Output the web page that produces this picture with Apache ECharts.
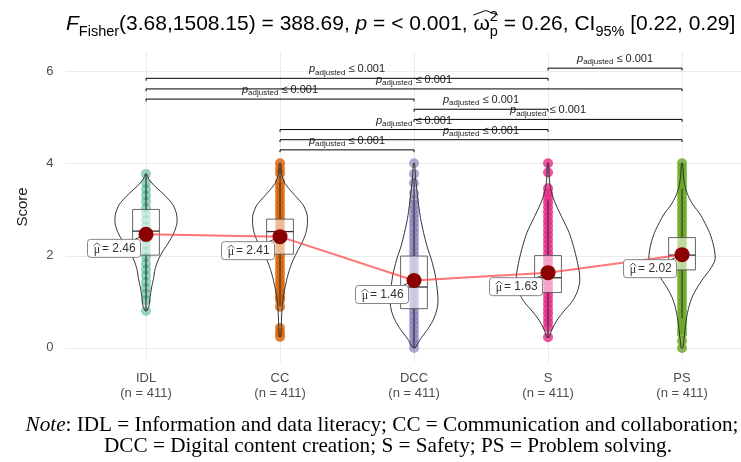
<!DOCTYPE html>
<html lang="en">
<head>
<meta charset="UTF-8">
<title>Score by competence area</title>
<style>
  html, body { margin: 0; padding: 0; background: #fff; }
  #chart { width: 741px; height: 462px; }
</style>
</head>
<body>
<div id="chart"></div>
<script src="https://cdn.jsdelivr.net/npm/echarts@6.0.0/dist/echarts.min.js"></script>
<script>
const categories = ['IDL', 'CC', 'DCC', 'S', 'PS'];
const groupSizes = [411, 411, 411, 411, 411];
const meanValues = [2.46, 2.41, 1.46, 1.63, 2.02];
const q1Values = [2.01, 2.03, 0.85, 1.20, 1.69];
const medianValues = [2.53, 2.52, 1.32, 1.52, 2.01];
const q3Values = [3.00, 2.79, 1.99, 2.00, 2.39];
const whiskerLow = [0.80, 0.90, 0.00, 0.23, 0.64];
const whiskerHigh = [3.77, 3.90, 3.67, 3.20, 3.44];
const yTicks = [0, 2, 4, 6];

// violin outlines: [score, half width in category units]
const violinIDL = [[3.77,0.004],[3.65,0.022],[3.5,0.067],[3.3,0.142],[3.1,0.201],[2.9,0.228],[2.7,0.231],[2.5,0.209],[2.3,0.172],[2.1,0.127],[1.9,0.090],[1.7,0.067],[1.5,0.056],[1.3,0.041],[1.1,0.030],[0.9,0.022],[0.8,0.004]];
const violinCC = [[4.0,0.004],[3.8,0.011],[3.6,0.030],[3.45,0.067],[3.3,0.112],[3.1,0.172],[2.9,0.201],[2.7,0.205],[2.5,0.194],[2.3,0.168],[2.1,0.131],[1.9,0.097],[1.7,0.071],[1.5,0.052],[1.3,0.037],[1.1,0.024],[0.9,0.016],[0.6,0.011],[0.4,0.009],[0.24,0.004]];
const violinDCC = [[4.0,0.004],[3.7,0.011],[3.4,0.022],[3.1,0.034],[2.8,0.049],[2.5,0.071],[2.2,0.097],[1.9,0.131],[1.6,0.157],[1.3,0.172],[1.0,0.179],[0.8,0.168],[0.6,0.142],[0.4,0.101],[0.2,0.049],[0.0,0.007]];
const violinS = [[4.0,0.004],[3.7,0.009],[3.45,0.019],[3.2,0.045],[3.0,0.075],[2.8,0.108],[2.5,0.157],[2.2,0.190],[1.9,0.216],[1.6,0.235],[1.4,0.235],[1.2,0.216],[1.0,0.179],[0.8,0.119],[0.6,0.067],[0.4,0.030],[0.23,0.007]];
const violinPS = [[4.0,0.004],[3.7,0.011],[3.5,0.022],[3.3,0.045],[3.1,0.082],[2.9,0.134],[2.7,0.172],[2.5,0.205],[2.3,0.228],[2.1,0.243],[1.9,0.246],[1.7,0.209],[1.5,0.157],[1.3,0.112],[1.1,0.075],[0.9,0.052],[0.7,0.037],[0.5,0.026],[0.3,0.019],[0.1,0.011],[0.0,0.007]];
const violins = [violinIDL, violinCC, violinDCC, violinS, violinPS];

// observed score levels per group
const pointsIDL = [3.77, 3.57, 3.43, 3.3, 3.17, 3.03, 2.9, 2.77, 2.63, 2.5, 2.37, 2.23, 2.1, 1.97, 1.83, 1.7, 1.57, 1.43, 1.3, 1.17, 1.03, 0.8];
const pointsCC = [4.0, 3.88, 3.78, 3.6, 3.5, 3.4, 3.3, 3.2, 3.1, 3.0, 2.9, 2.8, 2.7, 2.6, 2.5, 2.4, 2.3, 2.2, 2.1, 2.0, 1.9, 1.8, 1.7, 1.6, 1.5, 1.4, 1.3, 1.2, 1.1, 1.03, 0.89, 0.43, 0.33, 0.24];
const pointsDCC = [4.0, 3.77, 3.57, 3.35, 3.2, 3.1, 3.0, 2.9, 2.8, 2.7, 2.6, 2.5, 2.4, 2.3, 2.2, 2.1, 2.0, 1.9, 1.8, 1.7, 1.6, 1.5, 1.4, 1.3, 1.2, 1.1, 1.0, 0.9, 0.8, 0.7, 0.6, 0.5, 0.4, 0.3, 0.2, 0.1, 0.0];
const pointsS = [4.0, 3.8, 3.46, 3.35, 3.25, 3.15, 3.05, 2.95, 2.85, 2.75, 2.65, 2.55, 2.45, 2.35, 2.25, 2.15, 2.05, 1.95, 1.85, 1.75, 1.65, 1.55, 1.45, 1.35, 1.25, 1.15, 1.05, 0.95, 0.85, 0.75, 0.65, 0.55, 0.45, 0.23];
const pointsPS = [4.0, 3.9, 3.8, 3.7, 3.6, 3.5, 3.4, 3.3, 3.2, 3.1, 3.0, 2.9, 2.8, 2.7, 2.6, 2.5, 2.4, 2.3, 2.2, 2.1, 2.0, 1.9, 1.8, 1.7, 1.6, 1.5, 1.4, 1.3, 1.2, 1.1, 1.0, 0.9, 0.8, 0.7, 0.6, 0.5, 0.4, 0.3, 0.15, 0.0];
const groupPoints = [pointsIDL, pointsCC, pointsDCC, pointsS, pointsPS];

// pairwise comparisons, bottom bracket first
const pairFrom = [1, 1, 1, 2, 2, 0, 0, 0, 3];
const pairTo = [2, 4, 3, 4, 3, 2, 4, 3, 4];
const pairHeights = [4.29, 4.51, 4.73, 4.95, 5.17, 5.39, 5.61, 5.84, 6.06];
const pairP = ['≤ 0.001', '≤ 0.001', '≤ 0.001', '≤ 0.001', '≤ 0.001', '≤ 0.001', '≤ 0.001', '≤ 0.001', '≤ 0.001'];

const groupColors = ['#1B9E77', '#D95F02', '#7570B3', '#E7298A', '#66A61E'];
const pointAlpha = [0.45, 0.8, 0.6, 0.8, 0.8];
const sans = '"Liberation Sans", Arial, sans-serif';
const serif = '"Liberation Serif", "Times New Roman", serif';
const boxHalf = 0.1;
const titleSize = 21, titleSub = 14.5, titleLeft = 66, titleTop = 9;
const noteSize = 21.2;

let chart = echarts.init(document.getElementById('chart'));

// measure title pieces so the hat over omega lands in the right place
const ctx = document.createElement('canvas').getContext('2d');
function textWidth(s, size, italic) {
    ctx.font = (italic ? 'italic ' : '') + size + 'px ' + sans;
    return ctx.measureText(s).width;
}
const omegaX = titleLeft + textWidth('F', titleSize, true) + textWidth('Fisher', titleSub)
    + textWidth('(3.68,1508.15) = 388.69, ', titleSize) + textWidth('p', titleSize, true)
    + textWidth(' = < 0.001, ', titleSize);
const omegaW = textWidth('\u03c9', titleSize) + textWidth('2', titleSub);

function renderGrid(params, api) {
    const cs = params.coordSys;
    const children = [];
    yTicks.forEach(v => {
        const y = Math.round(api.coord([1, v])[1]) + 0.5;
        children.push({type: 'line', shape: {x1: cs.x, y1: y, x2: cs.x + cs.width, y2: y}, style: {stroke: '#ebebeb', lineWidth: 1}});
    });
    categories.forEach((c, i) => {
        const x = Math.round(api.coord([i + 1, 0])[0]) + 0.5;
        children.push({type: 'line', shape: {x1: x, y1: cs.y, x2: x, y2: cs.y + cs.height}, style: {stroke: '#ebebeb', lineWidth: 1}});
    });
    return {type: 'group', children: children};
}

function renderBox(params, api) {
    const g = api.value(0);
    const x = g + 1;
    const lo = api.coord([x, whiskerLow[g]]);
    const hi = api.coord([x, whiskerHigh[g]]);
    const a = api.coord([x - boxHalf, q3Values[g]]);
    const b = api.coord([x + boxHalf, q1Values[g]]);
    const m1 = api.coord([x - boxHalf, medianValues[g]]);
    const m2 = api.coord([x + boxHalf, medianValues[g]]);
    return {type: 'group', children: [
        {type: 'line', shape: {x1: hi[0], y1: hi[1], x2: hi[0], y2: a[1]}, style: {stroke: '#333', lineWidth: 1.1}},
        {type: 'line', shape: {x1: lo[0], y1: b[1], x2: lo[0], y2: lo[1]}, style: {stroke: '#333', lineWidth: 1.1}},
        {type: 'rect', shape: {x: a[0], y: a[1], width: b[0] - a[0], height: b[1] - a[1]}, style: {fill: 'rgba(255,255,255,0.55)', stroke: '#555', lineWidth: 0.9}},
        {type: 'line', shape: {x1: m1[0], y1: m1[1], x2: m2[0], y2: m2[1]}, style: {stroke: '#333', lineWidth: 1.3}}
    ]};
}

function renderViolin(params, api) {
    const g = api.value(0);
    const shape = violins[g];
    const pts = [];
    shape.forEach(d => pts.push(api.coord([g + 1 + d[1], d[0]])));
    for (let k = shape.length - 1; k >= 0; k--) {
        pts.push(api.coord([g + 1 - shape[k][1], shape[k][0]]));
    }
    return {type: 'polygon', shape: {points: pts, smooth: 0.25}, style: {fill: 'none', stroke: '#333', lineWidth: 1}};
}

function renderMeanLabel(params, api) {
    const g = api.value(0);
    const p = api.coord([g + 1, meanValues[g]]);
    const cx = p[0] - 32, cy = p[1] + 14;
    const mx = cx - 17;
    return {type: 'group', children: [
        {type: 'line', shape: {x1: p[0], y1: p[1], x2: cx + 21, y2: cy - 9}, style: {stroke: '#000', lineWidth: 0.8}},
        {type: 'rect', shape: {x: cx - 26.5, y: cy - 9, width: 53, height: 18, r: 3}, style: {fill: '#fff', stroke: '#777', lineWidth: 0.9}},
        {type: 'text', style: {text: '\u03bc', x: mx, y: cy + 1.5, align: 'center', verticalAlign: 'middle',
            font: '12px ' + serif, fill: '#333'}},
        {type: 'polyline', shape: {points: [[mx - 3.5, cy - 2.5], [mx, cy - 5.5], [mx + 3.5, cy - 2.5]]},
            style: {stroke: '#333', lineWidth: 0.8, fill: 'none'}},
        {type: 'text', style: {text: '= ' + meanValues[g].toFixed(2), x: mx + 5, y: cy + 0.5, align: 'left', verticalAlign: 'middle',
            font: '12px ' + sans, fill: '#333'}}
    ]};
}

function renderBrackets(params, api) {
    const children = [];
    const tip = api.size([0, 0.05])[1];
    pairFrom.forEach((a, k) => {
        const b = pairTo[k];
        const p1 = api.coord([a + 1, pairHeights[k]]);
        const p2 = api.coord([b + 1, pairHeights[k]]);
        children.push({type: 'polyline', shape: {points: [[p1[0], p1[1] + tip], [p1[0], p1[1]], [p2[0], p2[1]], [p2[0], p2[1] + tip]]},
            style: {stroke: '#000', lineWidth: 1, fill: 'none'}});
        children.push({type: 'text', style: {
            text: '{p|p}{s|adjusted}{n| ' + pairP[k] + '}',
            x: (p1[0] + p2[0]) / 2, y: p1[1] - 2, align: 'center', verticalAlign: 'bottom',
            rich: {
                p: {fontFamily: sans, fontStyle: 'italic', fontSize: 11, lineHeight: 14, fill: '#222'},
                s: {fontFamily: sans, fontSize: 8, lineHeight: 8, verticalAlign: 'bottom', fill: '#222'},
                n: {fontFamily: sans, fontSize: 11, lineHeight: 14, fill: '#222'}
            }
        }});
    });
    return {type: 'group', children: children};
}

const groupIndex = categories.map((c, i) => [i]);

const series = [
    {type: 'custom', renderItem: renderGrid, data: [[0]], silent: true, z: 0}
];
groupPoints.forEach((pts, g) => {
    series.push({
        type: 'scatter', symbolSize: 10, silent: true, z: 1,
        itemStyle: {color: groupColors[g], opacity: pointAlpha[g]},
        data: pts.map(v => [g + 1, v])
    });
});
series.push(
    {type: 'custom', renderItem: renderBox, data: groupIndex, silent: true, z: 2},
    {type: 'custom', renderItem: renderViolin, data: groupIndex, silent: true, z: 3},
    {type: 'line', data: meanValues.map((v, i) => [i + 1, v]), symbol: 'none', silent: true, z: 4,
        lineStyle: {color: 'rgba(255,60,60,0.7)', width: 2}},
    {type: 'custom', renderItem: renderMeanLabel, data: groupIndex, silent: true, z: 5},
    {type: 'scatter', data: meanValues.map((v, i) => [i + 1, v]), symbolSize: 15, silent: true, z: 6,
        itemStyle: {color: '#8B0000', opacity: 1}},
    {type: 'custom', renderItem: renderBrackets, data: [[0]], silent: true, z: 7}
);

const titleRich = {
    n: {fontFamily: sans, fontSize: titleSize, fontWeight: 'normal', lineHeight: 30, color: '#000'},
    i: {fontFamily: sans, fontSize: titleSize, fontWeight: 'normal', lineHeight: 30, fontStyle: 'italic', color: '#000'},
    sub: {fontFamily: sans, fontSize: titleSub, fontWeight: 'normal', lineHeight: 15, verticalAlign: 'bottom', color: '#000'},
    sup: {fontFamily: sans, fontSize: titleSub, fontWeight: 'normal', lineHeight: 15, verticalAlign: 'top', width: 0, color: '#000'}
};

const option = {
    animation: false,
    backgroundColor: '#fff',
    title: {
        left: titleLeft, top: titleTop, padding: 0,
        text: '{i|F}{sub|Fisher}{n|(3.68,1508.15) = 388.69, }{i|p}{n| = < 0.001, }{n|\u03c9}{sup|2}{sub|p}{n| = 0.26, CI}{sub|95%}{n| [0.22, 0.29]}',
        textStyle: {fontWeight: 'normal', rich: titleRich}
    },
    grid: {left: 65.6, right: 0, top: 52, bottom: 100, containLabel: false},
    xAxis: {
        type: 'value', min: 0.4, max: 5.44,
        axisLine: {show: false}, axisTick: {show: false}, splitLine: {show: false},
        axisLabel: {
            customValues: [1, 2, 3, 4, 5],
            formatter: v => categories[Math.round(v) - 1] + '\n(n = ' + groupSizes[Math.round(v) - 1] + ')',
            fontFamily: sans, fontSize: 13, lineHeight: 15, color: '#4d4d4d', margin: 9
        }
    },
    yAxis: {
        type: 'value', min: -0.305, max: 6.41,
        axisLine: {show: false}, axisTick: {show: false}, splitLine: {show: false},
        axisLabel: {customValues: yTicks, fontFamily: sans, fontSize: 13, color: '#4d4d4d', margin: 12},
        name: 'Score', nameLocation: 'middle', nameGap: 35,
        nameTextStyle: {fontFamily: sans, fontSize: 15, color: '#1a1a1a'}
    },
    graphic: [
        {type: 'polyline', shape: {points: [[omegaX, titleTop + 6], [omegaX + omegaW / 2, titleTop + 1.5], [omegaX + omegaW, titleTop + 6]]},
            style: {stroke: '#000', lineWidth: 1, fill: 'none'}},
        {type: 'text', x: 382, y: 425, style: {
            text: '{it|Note}: IDL = Information and data literacy; CC = Communication and collaboration;',
            align: 'center', verticalAlign: 'middle',
            font: noteSize + 'px ' + serif, fill: '#000',
            rich: {it: {fontFamily: serif, fontStyle: 'italic', fontSize: noteSize, fill: '#000'}}
        }},
        {type: 'text', x: 388, y: 446, style: {
            text: 'DCC = Digital content creation; S = Safety; PS = Problem solving.',
            align: 'center', verticalAlign: 'middle',
            font: noteSize + 'px ' + serif, fill: '#000'
        }}
    ],
    series: series
};

chart.setOption(option);
</script>
</body>
</html>
